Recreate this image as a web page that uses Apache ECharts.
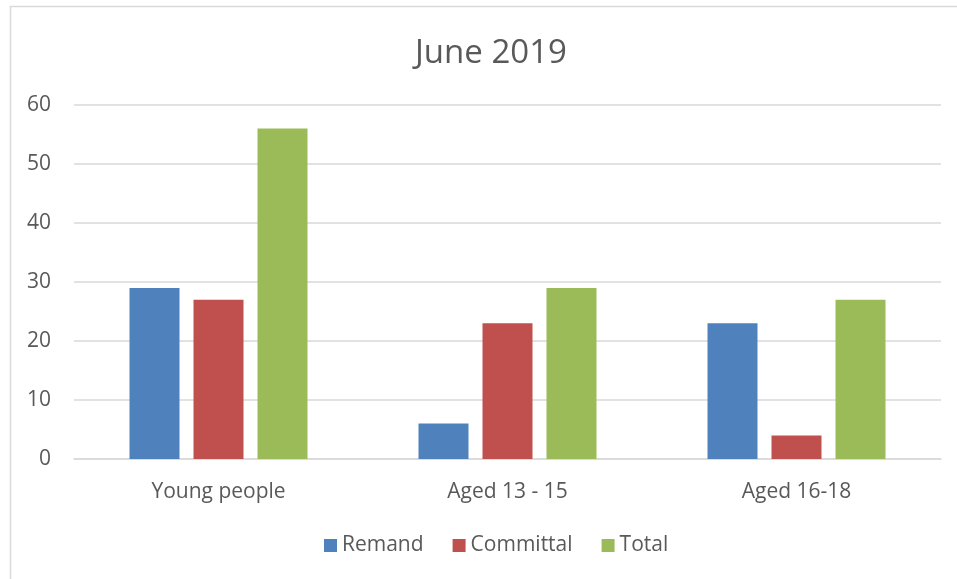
<!DOCTYPE html>
<html>
<head>
<meta charset="utf-8">
<script src="https://cdn.jsdelivr.net/npm/echarts@6/dist/echarts.min.js"></script>
<style>
    html, body { margin: 0; padding: 0; background: #fff; }
    #chart { width: 957px; height: 579px; }
</style>
</head>
<body>
<div id="chart"></div>
<script>
var categories = ['Young people', 'Aged 13 - 15', 'Aged 16-18'];
var remand = [29, 6, 23];
var committal = [27, 23, 4];
var total = [56, 29, 27];
var yTicks = { min: 0, max: 60, interval: 10 };

var textColor = '#595959';
var fontName = '"Open Sans", "Liberation Sans", sans-serif';

var chart = echarts.init(document.getElementById('chart'));
var option = {
    backgroundColor: '#fff',
    textStyle: { fontFamily: fontName },
    title: {
        text: 'June 2019',
        left: 410,
        top: 32,
        textStyle: { fontSize: 33, fontWeight: 'normal', color: textColor, fontFamily: fontName }
    },
    graphic: [
        {
            type: 'rect',
            shape: { x: 10.5, y: 6.5, width: 1000, height: 1000 },
            style: { fill: 'none', stroke: '#d9d9d9', lineWidth: 1.5 },
            silent: true
        }
    ],
    legend: {
        bottom: 18,
        left: 319,
        itemWidth: 13,
        itemHeight: 13,
        itemGap: 29,
        icon: 'rect',
        textStyle: { fontSize: 21, color: textColor, fontFamily: fontName },
        data: ['Remand', 'Committal', 'Total']
    },
    grid: {
        left: 74,
        right: 16,
        top: 105,
        bottom: 120
    },
    xAxis: {
        type: 'category',
        data: categories,
        axisLine: { lineStyle: { color: '#d9d9d9', width: 1.5 } },
        axisTick: { show: false },
        axisLabel: { fontSize: 21, color: textColor, margin: 23, fontFamily: fontName }
    },
    yAxis: {
        type: 'value',
        min: yTicks.min,
        max: yTicks.max,
        interval: yTicks.interval,
        axisLine: { show: false },
        axisTick: { show: false },
        splitLine: { lineStyle: { color: '#d9d9d9', width: 1.5 } },
        axisLabel: { fontSize: 21, color: textColor, margin: 23, fontFamily: fontName }
    },
    series: [
        { name: 'Remand', type: 'bar', data: remand, barWidth: 50, barGap: '28%', itemStyle: { color: '#4f81bd' } },
        { name: 'Committal', type: 'bar', data: committal, barWidth: 50, barGap: '28%', itemStyle: { color: '#c0504d' } },
        { name: 'Total', type: 'bar', data: total, barWidth: 50, barGap: '28%', itemStyle: { color: '#9bbb59' } }
    ]
};
chart.setOption(option);
</script>
</body>
</html>
